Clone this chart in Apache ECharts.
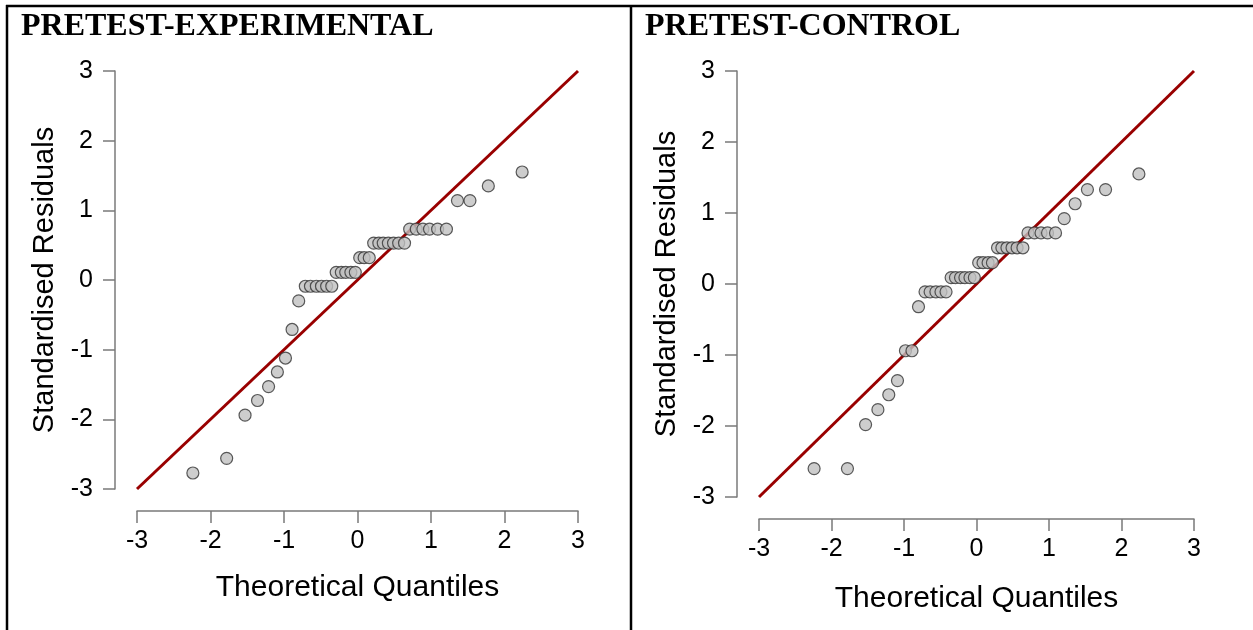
<!DOCTYPE html>
<html>
<head>
<meta charset="utf-8">
<script src="https://cdn.jsdelivr.net/npm/echarts@6/dist/echarts.min.js"></script>
<style>
  html, body { margin: 0; padding: 0; background: #fff; }
  #main { width: 1253px; height: 630px; }
</style>
</head>
<body>
<div id="main"></div>
<script>
// theoretical quantiles (n = 40), same for both panels
const quantiles = [-2.24, -1.78, -1.53, -1.36, -1.21, -1.09, -0.98, -0.89, -0.80, -0.71,
  -0.64, -0.56, -0.49, -0.42, -0.35, -0.29, -0.22, -0.16, -0.09, -0.03,
  0.03, 0.09, 0.16, 0.22, 0.29, 0.35, 0.42, 0.49, 0.56, 0.64,
  0.71, 0.80, 0.89, 0.98, 1.09, 1.21, 1.36, 1.53, 1.78, 2.24]

const residExperimental = [-2.77, -2.56, -1.94, -1.73, -1.53, -1.32, -1.12, -0.71, -0.30, -0.09,
  -0.09, -0.09, -0.09, -0.09, -0.09, 0.11, 0.11, 0.11, 0.11, 0.11,
  0.32, 0.32, 0.32, 0.53, 0.53, 0.53, 0.53, 0.53, 0.53, 0.53,
  0.73, 0.73, 0.73, 0.73, 0.73, 0.73, 1.14, 1.14, 1.35, 1.55]

const residControl = [-2.60, -2.60, -1.98, -1.77, -1.56, -1.36, -0.94, -0.94, -0.32, -0.11,
  -0.11, -0.11, -0.11, -0.11, 0.09, 0.09, 0.09, 0.09, 0.09, 0.09,
  0.30, 0.30, 0.30, 0.30, 0.51, 0.51, 0.51, 0.51, 0.51, 0.51,
  0.72, 0.72, 0.72, 0.72, 0.72, 0.92, 1.13, 1.33, 1.33, 1.55]

const refLine = [-3, 3]
const axisTicks = [-3, 3]
const panelTitles = ['PRETEST-EXPERIMENTAL', 'PRETEST-CONTROL']
const xName = 'Theoretical Quantiles'
const yName = 'Standardised Residuals'

const chart = echarts.init(document.getElementById('main'))

const axisColor = '#7a7a7a'
const labelFont = 'Liberation Sans, Arial, sans-serif'
const titleStyle = { fontFamily: 'Liberation Serif, Times New Roman, serif', fontSize: 32, fontWeight: 'bold', color: '#000' }

function xAxisFor(grid, gap) {
  return {
    gridIndex: grid,
    type: 'value',
    min: axisTicks[0],
    max: axisTicks[1],
    interval: 1,
    offset: 22,
    name: xName,
    nameLocation: 'middle',
    nameGap: gap,
    nameTextStyle: { fontSize: 30, color: '#000', fontFamily: labelFont },
    axisLine: { show: true, onZero: false, lineStyle: { color: axisColor, width: 1.5 } },
    axisTick: { show: true, length: 12, lineStyle: { color: axisColor, width: 1.5 } },
    axisLabel: { fontSize: 25, color: '#000', margin: 18, fontFamily: labelFont },
    splitLine: { show: false }
  }
}

function yAxisFor(grid) {
  return {
    gridIndex: grid,
    type: 'value',
    min: axisTicks[0],
    max: axisTicks[1],
    interval: 1,
    offset: 22,
    name: yName,
    nameLocation: 'middle',
    nameGap: 56,
    nameTextStyle: { fontSize: 29, color: '#000', fontFamily: labelFont },
    axisLine: { show: true, onZero: false, lineStyle: { color: axisColor, width: 1.5 } },
    axisTick: { show: true, length: 12, lineStyle: { color: axisColor, width: 1.5 } },
    axisLabel: { fontSize: 25, color: '#000', margin: 22, fontFamily: labelFont },
    splitLine: { show: false }
  }
}

function lineSeries(i) {
  return {
    type: 'line',
    xAxisIndex: i,
    yAxisIndex: i,
    data: [[refLine[0], refLine[0]], [refLine[1], refLine[1]]],
    symbol: 'none',
    silent: true,
    lineStyle: { color: '#990000', width: 3 },
    z: 2
  }
}

function pointSeries(i, resid) {
  return {
    type: 'scatter',
    xAxisIndex: i,
    yAxisIndex: i,
    data: quantiles.map((q, k) => [q, resid[k]]),
    symbol: 'circle',
    symbolSize: 12,
    itemStyle: { color: '#c0c0c0', borderColor: '#333', borderWidth: 1.2 },
    z: 3
  }
}

chart.setOption({
  animation: false,
  title: [
    { text: panelTitles[0], left: 21, top: 11, padding: 0, textStyle: titleStyle },
    { text: panelTitles[1], left: 645, top: 11, padding: 0, textStyle: titleStyle }
  ],
  grid: [
    { left: 137, top: 71, width: 441, height: 418 },
    { left: 759, top: 71, width: 435, height: 426 }
  ],
  xAxis: [xAxisFor(0, 62), xAxisFor(1, 65)],
  yAxis: [yAxisFor(0), yAxisFor(1)],
  series: [
    lineSeries(0),
    pointSeries(0, residExperimental),
    lineSeries(1),
    pointSeries(1, residControl)
  ],
  graphic: [
    { type: 'line', shape: { x1: 6, y1: 6, x2: 1253, y2: 6 }, style: { stroke: '#000', lineWidth: 2.5 } },
    { type: 'line', shape: { x1: 7, y1: 5, x2: 7, y2: 630 }, style: { stroke: '#000', lineWidth: 2.5 } },
    { type: 'line', shape: { x1: 631, y1: 5, x2: 631, y2: 630 }, style: { stroke: '#000', lineWidth: 2.5 } }
  ]
})
</script>
</body>
</html>
